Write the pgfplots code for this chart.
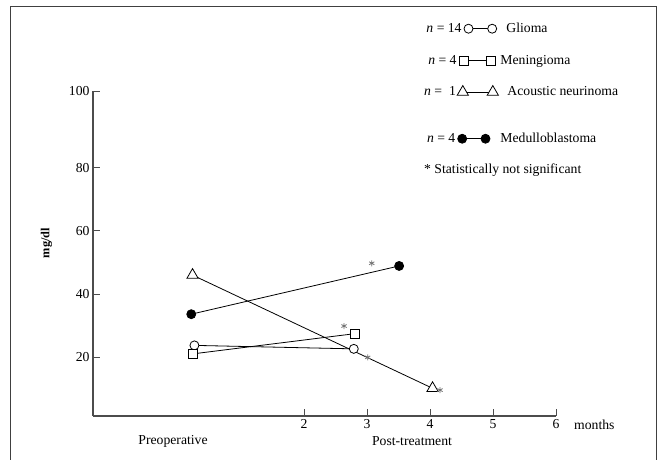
\documentclass[border=0pt]{standalone}
\usepackage{fontspec}
\setmainfont{Liberation Serif}
\usepackage{pgfplots}
\pgfplotsset{compat=1.18}
\newcommand\fs{\fontsize{13.7}{16}\selectfont}
% legend key: offset, line length, n-text, extra height
\pgfplotsset{
  nleg/.style n args={4}{legend image code/.code={
    \path (0pt,#4);
    \draw[##1] plot coordinates {(#1,0pt) (#1+#2,0pt)};
    \node[anchor=east,inner sep=0pt,font=\fs] at (#1-6.5pt,0pt) {#3};}},
}
\begin{document}
\begin{tikzpicture}
\useasboundingbox (0,0) rectangle (659pt,459pt);
\begin{axis}[
  at={(93pt,43pt)}, anchor=south west,
  scale only axis, width=463pt, height=325pt,
  xmin=-1.35, xmax=6, ymin=1.3, ymax=104.4,
  axis lines=left,
  axis line style={-, black!70, line width=1.2pt},
  tick align=inside, major tick length=7pt,
  tick style={black!70, line width=1pt},
  xtick={2,3,4,5,6},
  ytick={20,40,60,80,104.4},
  yticklabels={20,40,60,80,100},
  ticklabel style={font=\fs},
  /pgf/number format/assume math mode=true,
  clip=false,
  legend style={at={(0.7149,1.2154)}, anchor=north west, draw=none, fill=none,
    inner sep=0pt, font=\fs, row sep=17pt},
  legend cell align=left,
]
\addplot[black, line width=0.8pt, mark=*, mark size=4.5pt, mark options={fill=white, solid},
  nleg={6.3pt}{23.7pt}{{\itshape n} = 14}{0pt}]
  coordinates {(0.26,23.7) (2.79,22.6)};
\addlegendentry{\hspace{6pt}Glioma}
\addplot[black, line width=0.8pt, mark=square*, mark size=4.5pt, mark options={fill=white, solid},
  nleg={1.3pt}{27.7pt}{{\itshape n} = 4}{0pt}]
  coordinates {(0.23,21.0) (2.80,27.4)};
\addlegendentry{Meningioma}
\addplot[black, line width=0.8pt, mark=triangle*, mark size=6.5pt, mark options={fill=white, solid},
  nleg={0.6pt}{30pt}{{\itshape n} =\ \ 1}{0pt}]
  coordinates {(0.23,46.0) (4.04,10.1)};
\addlegendentry{\hspace{7pt}Acoustic neurinoma}
\addplot[black, line width=0.8pt, mark=*, mark size=4.5pt, mark options={fill=black, solid},
  nleg={0pt}{23.3pt}{{\itshape n} = 4}{22pt}]
  coordinates {(0.21,33.6) (3.51,48.9)};
\addlegendentry{Medulloblastoma}
\addplot[only marks, mark=asterisk, mark size=3pt, black!55, line width=0.8pt, forget plot]
  coordinates {(3.075,49.75) (2.635,29.84) (3.011,19.9) (4.159,9.52)};
\node[font=\fs] at (rel axis cs:0.1728,-0.0769) {Preoperative};
\node[font=\fs] at (rel axis cs:0.689,-0.0769) {Post-treatment};
\node[font=\fs, anchor=west, inner sep=0pt] at (rel axis cs:1.0389,-0.0277) {months};
\node[font=\bfseries\fontsize{12.3}{14}\selectfont, rotate=90] at (rel axis cs:-0.1004,0.532) {mg/dl};
\node[font=\fs, anchor=west, inner sep=0pt] at (rel axis cs:0.7149,0.757) {* Statistically not significant};
\end{axis}
\draw[black!75, line width=1pt] (10.5pt,-2pt) -- (10.5pt,452pt) -- (656pt,452pt) -- (656pt,-2pt);
\end{tikzpicture}
\end{document}
